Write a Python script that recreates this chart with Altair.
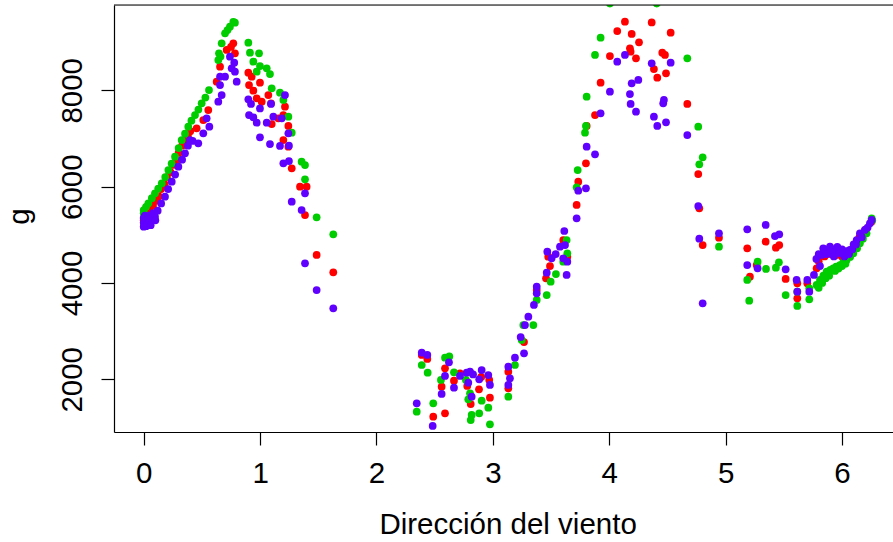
import altair as alt
import pandas as pd

# ---- data ----
red_x = [0.0, 0.01, 0.03, 0.05, 0.08, 0.1, 0.13, 0.15, 0.18, 0.2, 0.23, 0.25, 0.28, 0.3, 0.33, 0.35, 0.38, 0.4,
         0.455, 0.512, 0.555, 0.627, 0.656, 0.713, 0.770, 0.784, 0.75, 0.899, 0.928, 0.999, 0.905, 0.942, 0.971,
         1.014, 1.071, 1.094, 1.214, 1.2, 1.157, 1.1, 1.243, 1.2, 1.243, 1.272, 1.343, 1.4, 1.386, 1.486, 1.629,
         2.389, 2.437, 2.589, 2.666, 2.56, 2.488, 2.589, 2.78, 2.81, 2.881, 2.975, 2.969, 2.9, 3.133, 3.133, 3.268, 2.718,
         3.377, 3.457, 3.476, 3.491, 3.605, 3.64, 3.72, 3.734, 3.8, 3.806, 3.878, 3.926, 4.006, 4.069, 4.135, 4.193,
         4.178, 4.184, 4.23, 4.256, 4.365, 4.384, 4.413, 4.456, 4.479, 4.488, 4.528, 4.671, 4.765, 4.774, 4.803, 4.943,
         5.186, 5.344, 5.432, 5.461, 5.209, 5.267, 5.516, 5.616, 5.702, 5.616, 5.782, 5.8, 5.85, 5.9, 5.95, 6.0, 6.05,
         6.1, 6.15, 6.2, 6.255]
red_y = [5300, 5400, 5450, 5500, 5600, 5700, 5800, 5950, 6050, 6200, 6300, 6450, 6550, 6700, 6850, 6950, 7050, 7150,
         7211, 7383, 7591, 8179, 8490, 8837, 8976, 8768, 8900, 8365, 8282, 8158, 8110, 7992, 7834,
         7763, 7902, 7730, 7660, 7487, 7419, 7300, 7259, 6968, 6829, 6381, 5999, 5999, 5411, 4581, 4222,
         2505, 2422, 2228, 1971, 1847, 1224, 1294, 1861, 1487, 1792, 1618, 1986, 2050, 2159, 1813, 2774, 2124,
         3854, 4097, 4546, 4352, 4892, 4546, 5619, 6103, 6484, 7259, 7487, 8158, 8712, 9231, 9424, 9169,
         8872, 8801, 8664, 8996, 9410, 8442, 8262, 8781, 8733, 8353, 9196, 7716, 6262, 5550, 4788, 4940,
         4720, 4858, 4733, 4788, 4131, 4373, 4083, 3993, 3993, 3682, 4305, 4450, 4550, 4600, 4580, 4550, 4620,
         4750, 4950, 5100, 5274]

green_x = [0.0, 0.0, 0.02, 0.04, 0.07, 0.097, 0.125, 0.155, 0.185, 0.212, 0.24, 0.269, 0.3, 0.326, 0.355, 0.383,
           0.41, 0.441, 0.47, 0.498, 0.53, 0.561, 0.641, 0.647, 0.67, 0.699, 0.72, 0.741, 0.784, 0.77, 0.66,
           0.899, 0.913, 0.991, 0.942, 0.999, 1.057, 1.085, 0.971, 1.1, 1.171, 1.2, 1.243, 1.272, 1.357, 1.386,
           1.386, 1.486, 1.629,
           2.389, 2.44, 2.589, 2.626, 2.666, 2.554, 2.346, 2.488, 2.769, 2.804, 2.789, 2.818, 2.81, 2.883, 2.904,
           2.961, 2.975, 3.133, 3.19, 3.248,
           3.262, 3.348, 3.377, 3.463, 3.497, 3.542, 3.605, 3.634, 3.64, 3.72, 3.729, 3.792, 3.8, 3.806, 3.878,
           3.926, 4.006, 4.408, 4.671, 4.765, 4.803, 4.774, 4.943,
           5.186, 5.203, 5.275, 5.347, 5.432, 5.458, 5.516, 5.616, 5.616, 5.719, 5.719, 5.782, 5.811, 5.84, 5.868,
           5.9, 5.925, 5.95, 5.982, 6.01, 6.04, 6.07, 6.097, 6.13, 6.154, 6.18, 6.211, 6.255, 6.26,
           5.8, 5.83, 5.86, 5.89, 5.94, 5.97, 6.0, 6.03]
green_y = [5515, 5450, 5580, 5654, 5760, 5862, 5960, 6069, 6200, 6345, 6480, 6622, 6800, 6968, 7100, 7244,
           7370, 7487, 7600, 7730, 7850, 8006, 8629, 8768, 8976, 9183, 9250, 9320, 9403, 9420, 8700,
           8988, 8781, 8768, 8594, 8504, 8457, 8338, 8386, 8042, 7950, 7799, 7452, 7120, 6518, 6449,
           6152, 5363, 5011,
           2297, 2138, 2449, 2476, 2145, 1986, 1329, 1502, 1986, 1709, 1585, 1259, 1155, 1294, 1556,
           1411, 1066, 1639, 2297, 2816,
           3127, 3127, 3647, 3750, 4027, 4186, 4442, 4892, 4616, 5986, 6345, 7120, 7259, 7867, 8733,
           9092, 9800, 9800, 8664, 7244, 6609, 6464, 4753,
           4062, 3632, 4442, 4291, 4318, 4429, 3750, 3522, 3819, 3661, 3889, 3958, 4062, 4150, 4235,
           4270, 4305, 4340, 4373, 4420, 4477, 4540, 4616, 4720, 4823, 4920, 5031, 5343, 5300,
           3900, 4000, 4100, 4150, 4250, 4300, 4350, 4400]

purple_x = [0.0, 0.0, 0.0, 0.01, 0.02, 0.03, 0.05, 0.05, 0.07, 0.097, 0.12, 0.15, 0.183, 0.21, 0.241, 0.27,
            0.298, 0.33, 0.355, 0.38, 0.398, 0.42, 0.469, 0.512, 0.541, 0.564, 0.641, 0.67, 0.656, 0.656, 0.741,
            0.778, 0.756, 0.784, 0.699, 0.799,
            0.899, 0.922, 0.905, 0.942, 0.971, 0.999, 0.999, 1.094, 1.057, 1.114, 1.186, 1.214, 1.243, 1.085,
            1.171, 1.248, 1.2, 1.248, 1.386, 1.272, 1.357, 1.386, 1.486, 1.629,
            2.389, 2.437, 2.623, 2.589, 2.666, 2.56, 2.346, 2.483, 2.718, 2.775, 2.804, 2.83, 2.789, 2.904, 2.961,
            2.975, 2.883, 2.818, 3.133, 3.147, 3.133, 3.19, 3.239, 3.268,
            3.276, 3.305, 3.353, 3.377, 3.377, 3.463, 3.468, 3.505, 3.54, 3.577, 3.62, 3.605, 3.64, 3.634, 3.614,
            3.72, 3.734, 3.8, 3.806, 3.878, 3.926, 4.006, 4.069, 4.135, 4.193, 4.25, 4.178, 4.184, 4.23, 4.365,
            4.528, 4.47, 4.464, 4.384, 4.413, 4.488, 4.671, 4.765, 4.774, 4.943, 4.803,
            5.186, 5.344, 5.186, 5.275, 5.424, 5.461, 5.516, 5.61, 5.702, 5.616, 5.719, 5.759, 5.811, 5.825, 5.839,
            5.86, 5.897, 5.92, 5.954, 5.98, 6.011, 6.04, 6.068, 6.1, 6.126, 6.154, 6.197, 6.24, 6.255,
            5.78, 5.8, 5.85, 5.87, 5.9, 5.93, 5.96, 6.0, 6.02, 6.06, 6.09, 6.12, 6.17, 6.22,
            0.01, 0.02, 0.04, 0.06, 0.08, 0.1]
purple_y = [5168, 5250, 5350, 5200, 5300, 5230, 5280, 5400, 5330, 5376, 5500, 5650, 5791, 5950, 6103, 6250,
            6414, 6560, 6692, 6850, 6968, 6950, 6900, 7107, 7419, 7244, 7763, 7902, 8110, 8282, 8698,
            8573, 8457, 8386, 8282, 8179,
            7813, 7716, 7487, 7439, 7327, 7624, 7024, 7716, 7327, 7452, 7419, 7902, 7107, 6885,
            6844, 6850, 6484, 6532, 5862, 5687, 5515, 4408, 3854, 3474,
            2553, 2505, 2353, 2069, 1826, 1695, 1502, 1031, 2069, 2138, 2159, 2100, 1930, 2193, 2089,
            1882, 2000, 1639, 2262, 2021, 1882, 2449, 2878, 2540,
            3127, 3300, 3543, 3786, 3923, 4214, 4650, 4512, 4600, 4753, 4788, 4512, 4442, 4166, 5079,
            5343, 5916, 5966, 6829, 6671, 7522, 7971, 8594, 8733, 8145, 8214, 7923, 7716, 7556, 8561,
            8573, 7799, 7730, 7452, 7259, 7336, 7072, 5598, 4919, 5031, 3578,
            5114, 5204, 4373, 4305, 4975, 5010, 4284, 4062, 4062, 3819, 3819, 4166, 4352, 4581, 4720,
            4650, 4753, 4700, 4685, 4620, 4616, 4660, 4685, 4800, 4892, 5031, 5100, 5239, 5308,
            4500, 4600, 4700, 4600, 4650, 4550, 4750, 4700, 4550, 4600, 4700, 4800, 4950, 5150,
            5400, 5180, 5350, 5200, 5450, 5300]

series_names = ["red", "green", "purple"]
series_colors = ["#FF0000", "#00CD00", "#6000FF"]

x_ticks = [0, 1, 2, 3, 4, 5, 6]
y_ticks = [2000, 4000, 6000, 8000]

frames = []
for name, xs, ys in [("red", red_x, red_y), ("green", green_x, green_y), ("purple", purple_x, purple_y)]:
    frames.append(pd.DataFrame({"dir": xs, "g": ys, "serie": name}))
df = pd.concat(frames, ignore_index=True)

W, H = 779, 427
FONT = "Liberation Sans"
FS = 29.5

x_axis = alt.Axis(values=x_ticks, format="d", title="Dirección del viento", grid=False, tickSize=13,
                  tickColor="black", tickWidth=1.2, domainColor="black", domainWidth=1.2,
                  labelFont=FONT, labelFontSize=FS, labelColor="black", labelBaseline="alphabetic",
                  labelPadding=37, labelFlush=False,
                  titleFont=FONT, titleFontSize=FS, titleFontWeight="normal", titleColor="black",
                  titleX=393.6, titleY=101, titleBaseline="alphabetic", titleAlign="center")
y_axis = alt.Axis(values=y_ticks, format="d", title="g", grid=False, tickSize=13,
                  tickColor="black", tickWidth=1.2, domainColor="black", domainWidth=1.2,
                  labelFont=FONT, labelFontSize=FS, labelColor="black", labelAngle=270,
                  labelAlign="center", labelBaseline="alphabetic", labelPadding=20, labelFlush=False,
                  titleFont=FONT, titleFontSize=FS, titleFontWeight="normal", titleColor="black",
                  titleAngle=270, titleX=-86, titleY=211, titleBaseline="alphabetic", titleAlign="center")

points = alt.Chart(df).mark_circle(size=60, opacity=1, clip=True).encode(
    x=alt.X("dir:Q", scale=alt.Scale(domain=[-0.2552, 6.4384], nice=False, zero=False), axis=x_axis),
    y=alt.Y("g:Q", scale=alt.Scale(domain=[906, 9771], nice=False, zero=False), axis=y_axis),
    color=alt.Color("serie:N", scale=alt.Scale(domain=series_names, range=series_colors), legend=None),
)

top_line = alt.Chart(alt.Data(values=[{}])).mark_rule(color="black", strokeWidth=1.2).encode(
    x=alt.value(0), x2=alt.value(W + 5), y=alt.value(0)
)

chart = alt.layer(points, top_line).properties(
    width=W, height=H,
    autosize=alt.AutoSizeParams(type="none"),
    padding={"left": 114, "top": 5, "right": 0, "bottom": 110},
).configure_view(stroke=None).configure(background="white")

chart.save("out.html", embed_options={"renderer": "svg", "actions": False})
